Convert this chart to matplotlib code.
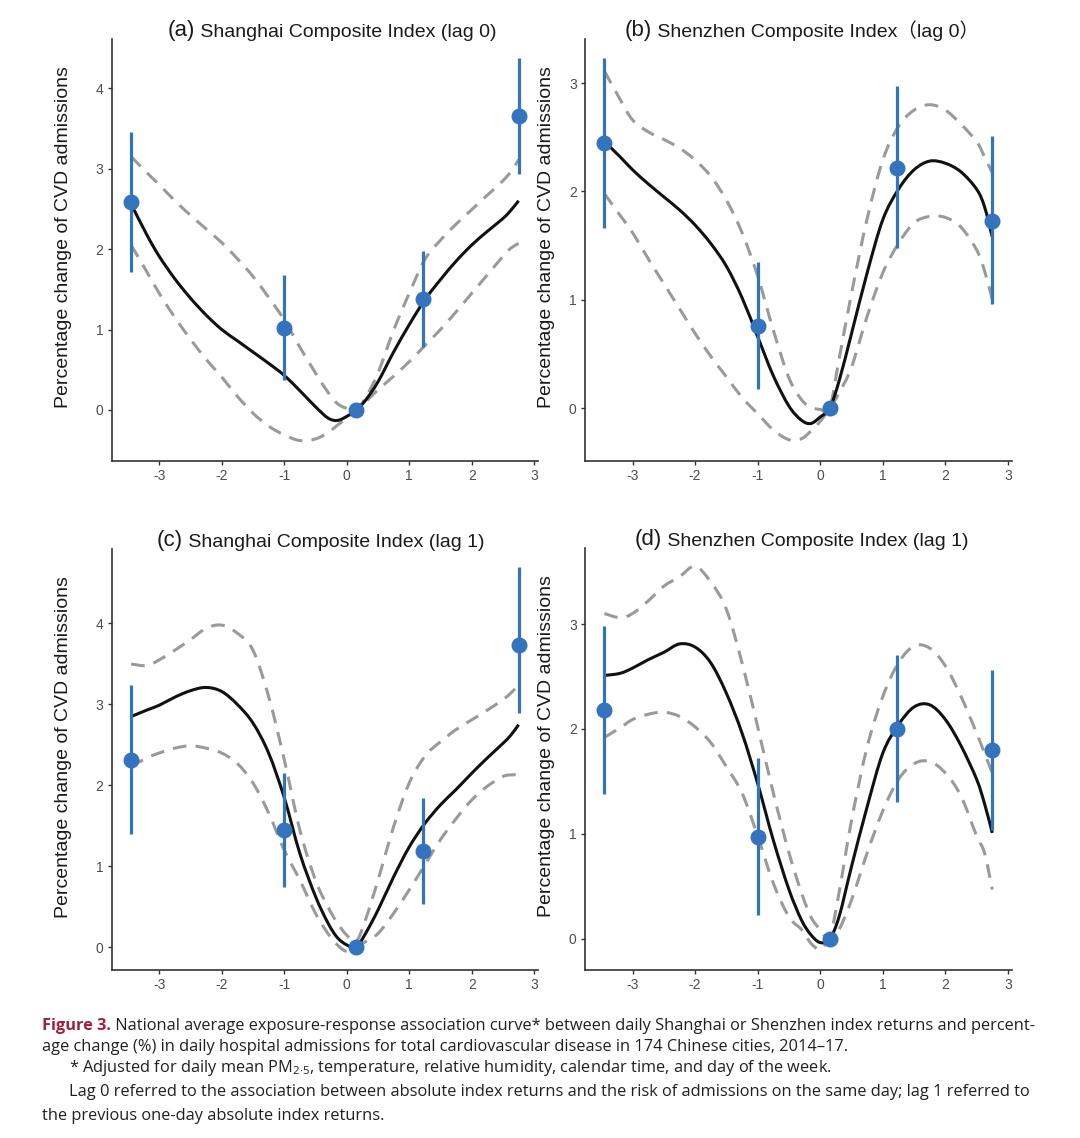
import matplotlib
matplotlib.use('Agg')
import matplotlib.pyplot as plt
from matplotlib.path import Path
from matplotlib.patches import PathPatch

plt.rcParams['font.family'] = ['Liberation Sans', 'DejaVu Sans']
plt.rcParams['axes.unicode_minus'] = False

# quintile points of index returns (x) and estimates with 95% CI
bin_x = [-3.45, -1.0, 0.15, 1.22, 2.75]

a_est = [2.58, 1.02, 0.0, 1.38, 3.65]
a_lo = [1.72, 0.37, 0.0, 0.78, 2.93]
a_hi = [3.45, 1.68, 0.0, 1.98, 4.37]

b_est = [2.45, 0.76, 0.0, 2.22, 1.73]
b_lo = [1.66, 0.18, 0.0, 1.48, 0.96]
b_hi = [3.23, 1.35, 0.0, 2.97, 2.51]

c_est = [2.32, 1.45, 0.0, 1.19, 3.74]
c_lo = [1.40, 0.74, 0.0, 0.54, 2.90]
c_hi = [3.24, 2.15, 0.0, 1.84, 4.70]

d_est = [2.18, 0.97, 0.0, 2.00, 1.80]
d_lo = [1.38, 0.23, 0.0, 1.30, 1.04]
d_hi = [2.98, 1.72, 0.0, 2.70, 2.56]

# smooth exposure-response curves, read at these returns
curve_x = [-3.45, -3.2, -3.0, -2.75, -2.5, -2.25, -2.0, -1.75, -1.5, -1.25,
           -1.0, -0.75, -0.5, -0.3, -0.15, 0.0, 0.15, 0.3, 0.5, 0.75,
           1.0, 1.25, 1.5, 1.75, 2.0, 2.25, 2.5, 2.625, 2.75]

a_fit = [2.56, 2.18, 1.91, 1.63, 1.39, 1.18, 1.00, 0.86, 0.72, 0.58,
         0.43, 0.24, 0.04, -0.10, -0.13, -0.08, 0.0, 0.12, 0.35, 0.72,
         1.06, 1.37, 1.62, 1.85, 2.05, 2.22, 2.38, 2.48, 2.60]
a_up = [3.15, 2.95, 2.80, 2.60, 2.42, 2.25, 2.08, 1.88, 1.66, 1.40,
        1.12, 0.78, 0.46, 0.22, 0.08, 0.02, 0.0, 0.15, 0.46, 0.99,
        1.45, 1.87, 2.11, 2.31, 2.49, 2.67, 2.85, 2.96, 3.11]
a_low = [2.05, 1.72, 1.45, 1.15, 0.88, 0.63, 0.41, 0.17, -0.04, -0.20,
         -0.31, -0.38, -0.36, -0.28, -0.19, -0.10, 0.0, 0.10, 0.25, 0.42,
         0.60, 0.80, 1.00, 1.22, 1.45, 1.68, 1.91, 2.01, 2.07]

b_fit = [2.46, 2.32, 2.20, 2.07, 1.95, 1.83, 1.69, 1.52, 1.31, 1.02,
         0.66, 0.30, 0.02, -0.11, -0.14, -0.08, 0.0, 0.25, 0.69, 1.25,
         1.74, 2.02, 2.20, 2.28, 2.26, 2.18, 2.02, 1.86, 1.58]
b_up = [3.11, 2.85, 2.66, 2.55, 2.48, 2.40, 2.29, 2.14, 1.92, 1.62,
        1.22, 0.72, 0.28, 0.08, 0.01, -0.01, 0.0, 0.45, 1.06, 1.75,
        2.29, 2.60, 2.75, 2.80, 2.75, 2.62, 2.46, 2.32, 2.17]
b_low = [1.98, 1.78, 1.62, 1.38, 1.15, 0.92, 0.69, 0.48, 0.29, 0.10,
         -0.05, -0.20, -0.29, -0.28, -0.21, -0.12, 0.0, 0.14, 0.38, 0.85,
         1.25, 1.52, 1.71, 1.77, 1.76, 1.67, 1.46, 1.27, 1.00]

c_fit = [2.85, 2.93, 2.99, 3.09, 3.17, 3.21, 3.16, 3.00, 2.77, 2.40,
         1.85, 1.16, 0.63, 0.30, 0.12, 0.03, 0.0, 0.17, 0.46, 0.87,
         1.24, 1.53, 1.76, 1.95, 2.15, 2.34, 2.52, 2.62, 2.75]
c_up = [3.50, 3.48, 3.55, 3.67, 3.80, 3.94, 3.98, 3.88, 3.67, 3.10,
        2.32, 1.45, 0.83, 0.50, 0.30, 0.15, 0.07, 0.34, 0.83, 1.49,
        2.03, 2.36, 2.54, 2.69, 2.81, 2.93, 3.06, 3.14, 3.24]
c_low = [2.23, 2.34, 2.40, 2.46, 2.49, 2.46, 2.40, 2.27, 2.03, 1.66,
         1.20, 0.83, 0.42, 0.17, 0.03, -0.05, 0.0, 0.07, 0.17, 0.42,
         0.71, 1.02, 1.33, 1.59, 1.82, 1.99, 2.11, 2.13, 2.13]

d_fit = [2.51, 2.53, 2.58, 2.66, 2.73, 2.81, 2.78, 2.63, 2.34, 1.96,
         1.48, 0.94, 0.47, 0.18, 0.04, -0.035, 0.0, 0.21, 0.69, 1.26,
         1.77, 2.04, 2.21, 2.23, 2.09, 1.84, 1.52, 1.29, 1.01]
d_up = [3.10, 3.06, 3.10, 3.22, 3.36, 3.45, 3.55, 3.40, 3.14, 2.63,
        2.02, 1.39, 0.82, 0.44, 0.21, 0.09, 0.02, 0.44, 1.13, 1.83,
        2.31, 2.63, 2.79, 2.77, 2.60, 2.31, 1.96, 1.77, 1.58]
d_low = [1.92, 2.01, 2.09, 2.14, 2.16, 2.12, 2.02, 1.87, 1.64, 1.39,
         0.98, 0.53, 0.21, 0.09, -0.04, -0.10, 0.0, 0.09, 0.37, 0.82,
         1.22, 1.52, 1.67, 1.69, 1.58, 1.36, 0.98, 0.82, 0.47]

panels = [
    ('(a)', 'Shanghai Composite Index (lag 0)', a_est, a_lo, a_hi, a_fit, a_up, a_low, (-0.634, 4.61), 5),
    ('(b)', 'Shenzhen Composite Index\uff08lag 0\uff09', b_est, b_lo, b_hi, b_fit, b_up, b_low, (-0.486, 3.406), 4),
    ('(c)', 'Shanghai Composite Index (lag 1)', c_est, c_lo, c_hi, c_fit, c_up, c_low, (-0.28, 4.92), 5),
    ('(d)', 'Shenzhen Composite Index (lag 1)', d_est, d_lo, d_hi, d_fit, d_up, d_low, (-0.296, 3.724), 4),
]

# axes boxes in pixels (left, top, right, bottom)
W, H = 1080, 1138
boxes = [(111.7, 39, 538, 461), (585, 39, 1011.7, 461),
         (111.7, 549, 538, 970), (585, 548, 1011.7, 970)]
title_x = [0.132, 0.094, 0.105, 0.117]
ylab_x = [-0.094, -0.07, -0.094, -0.07]


def smooth_path(xs, ys):
    # bezier path through the read points (Catmull-Rom handles)
    verts = [(xs[0], ys[0])]
    codes = [Path.MOVETO]
    n = len(xs)
    for i in range(n - 1):
        i0, i3 = max(i - 1, 0), min(i + 2, n - 1)
        c1 = (xs[i] + (xs[i + 1] - xs[i0]) / 6, ys[i] + (ys[i + 1] - ys[i0]) / 6)
        c2 = (xs[i + 1] - (xs[i3] - xs[i]) / 6, ys[i + 1] - (ys[i3] - ys[i]) / 6)
        verts += [c1, c2, (xs[i + 1], ys[i + 1])]
        codes += [Path.CURVE4] * 3
    return Path(verts, codes)


blue = '#3474BE'
fig = plt.figure(figsize=(W / 100, H / 100), dpi=100)

for (tag, name, est, lo, hi, fit, up, low, ylim, ymax), (l, t, r, b), tx, lx in zip(panels, boxes, title_x, ylab_x):
    ax = fig.add_axes([l / W, 1 - b / H, (r - l) / W, (b - t) / H])
    for band in (up, low):
        ax.add_patch(PathPatch(smooth_path(curve_x, band), fill=False, edgecolor='#9a9a9a',
                               lw=2.2, linestyle=(0, (4.5, 3))))
    ax.add_patch(PathPatch(smooth_path(curve_x, fit), fill=False, edgecolor='#111111', lw=2.2))
    ax.vlines(bin_x, lo, hi, color=blue, lw=2.3, zorder=3)
    ax.plot(bin_x, est, 'o', color=blue, ms=10.5, mec=blue, zorder=4)

    ax.set_xlim(-3.76, 3.06)
    ax.set_ylim(*ylim)
    ax.set_xticks(range(-3, 4))
    ax.set_yticks(range(0, ymax))
    for s in ['top', 'right']:
        ax.spines[s].set_visible(False)
    for s in ['left', 'bottom']:
        ax.spines[s].set_color('#333333')
        ax.spines[s].set_linewidth(1.2)
    ax.tick_params(color='#333333', length=3, width=1.0, labelcolor='#4d4d4d',
                   labelsize=10, pad=3)
    ax.set_ylabel('Percentage change of CVD admissions', fontsize=14, color='#1a1a1a')
    ax.yaxis.set_label_coords(lx, 0.53)

    tt = ax.text(tx, 1.008, tag, transform=ax.transAxes, fontsize=16,
                 va='baseline', ha='left', color='#1a1a1a')
    ax.annotate(' ' + name, xy=(1, 0), xycoords=tt, va='bottom', ha='left',
                fontsize=14, color='#1a1a1a',
                family=['Liberation Sans', 'Noto Sans CJK SC'])

# caption
cap_font = ['Open Sans', 'DejaVu Sans']
cap_size = 11.75
ink = '#231f20'


def fx(x):
    return x / W


def fy(y):
    return 1 - y / H


t0 = fig.text(fx(42.5), fy(1030), 'Figure 3.', fontsize=cap_size, family=cap_font,
              weight='bold', color='#a3213f', va='baseline')
ax.annotate(' National average exposure-response association curve* between daily Shanghai or Shenzhen index returns and percent-',
            xy=(1, 0), xycoords=t0, va='bottom', ha='left',
            fontsize=cap_size, family=cap_font, color=ink, annotation_clip=False)
fig.text(fx(42.5), fy(1051), 'age change (%) in daily hospital admissions for total cardiovascular disease in 174 Chinese cities, 2014\u201317.',
         fontsize=cap_size, family=cap_font, color=ink, va='baseline')
fig.text(fx(69), fy(1072), '* Adjusted for daily mean PM$_{\\mathregular{2\u00b75}}$, temperature, relative humidity, calendar time, and day of the week.',
         fontsize=cap_size, family=cap_font, color=ink, va='baseline')
fig.text(fx(69), fy(1096.5), 'Lag 0 referred to the association between absolute index returns and the risk of admissions on the same day; lag 1 referred to',
         fontsize=cap_size, family=cap_font, color=ink, va='baseline')
fig.text(fx(42.5), fy(1120), 'the previous one-day absolute index returns.',
         fontsize=cap_size, family=cap_font, color=ink, va='baseline')

fig.savefig('out.png', dpi=100, facecolor='white')
